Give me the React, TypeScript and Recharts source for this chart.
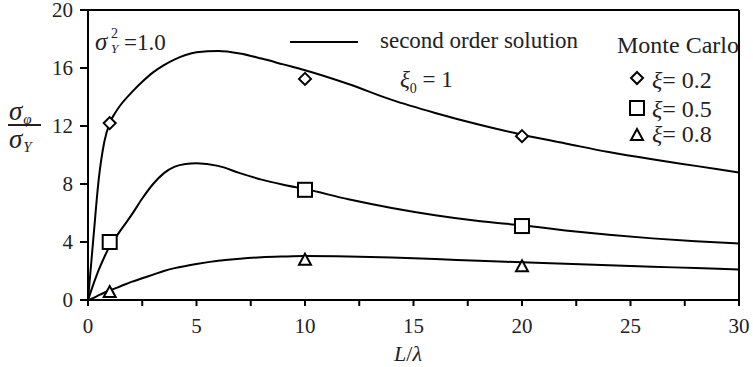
import React from 'react';
import { ComposedChart, Line, Scatter, XAxis, YAxis, ReferenceLine } from 'recharts';

// L/lambda sample points for the second order solution curves
const curveX = [0, 0.25, 0.5, 0.75, 1, 1.25, 1.5, 2, 2.5, 3, 3.5, 4, 4.5, 5, 6, 7, 8, 9, 10, 12, 14, 16, 18, 20, 22, 24, 26, 28, 30];
const curve02 = [0, 4.3, 8.4, 10.9, 12.2, 12.9, 13.45, 14.3, 15.05, 15.7, 16.2, 16.6, 16.9, 17.08, 17.17, 17.0, 16.65, 16.25, 15.85, 14.9, 13.8, 12.9, 12.1, 11.4, 10.8, 10.2, 9.7, 9.25, 8.8];
const curve05 = [0, 1.1, 2.1, 2.95, 3.7, 4.25, 4.8, 5.85, 7.0, 8.0, 8.75, 9.2, 9.38, 9.43, 9.25, 8.75, 8.3, 7.95, 7.65, 6.95, 6.35, 5.85, 5.45, 5.15, 4.8, 4.5, 4.25, 4.05, 3.9];
const curve08 = [0, 0.15, 0.33, 0.5, 0.65, 0.8, 0.95, 1.25, 1.5, 1.75, 2.0, 2.2, 2.35, 2.48, 2.7, 2.85, 2.95, 3.0, 3.03, 3.0, 2.93, 2.83, 2.7, 2.6, 2.5, 2.4, 2.3, 2.2, 2.1];

// Monte Carlo results
const mcX = [1, 10, 20];
const mc02 = [12.2, 15.25, 11.3];
const mc05 = [4.0, 7.6, 5.1];
const mc08 = [0.55, 2.78, 2.33];

const xTicks = [0, 2.5, 5, 7.5, 10, 12.5, 15, 17.5, 20, 22.5, 25, 27.5, 30];
const yTicks = [0, 4, 8, 12, 16, 20];

const serif = "'Liberation Serif', 'Times New Roman', serif";

const toPoints = (xs: number[], ys: number[]) => xs.map((x, i) => ({ x, y: ys[i] }));

const Diamond = ({ cx, cy }: any) => (
    <path d={`M${cx},${cy - 6}L${cx + 6},${cy}L${cx},${cy + 6}L${cx - 6},${cy}Z`} fill="#fff" stroke="#000" strokeWidth={2} />
);
const Square = ({ cx, cy }: any) => (
    <rect x={cx - 7} y={cy - 7} width={14} height={14} fill="#fff" stroke="#000" strokeWidth={2} />
);
const Triangle = ({ cx, cy }: any) => (
    <path d={`M${cx},${cy - 6}L${cx + 6},${cy + 5}L${cx - 6},${cy + 5}Z`} fill="#fff" stroke="#000" strokeWidth={2} />
);

const XTick = ({ x, y, payload }: any) => {
    if (payload.value % 5 !== 0) return <g />;
    return (
        <text x={x} y={y + 25} textAnchor="middle" style={{ fontFamily: serif }} fontSize={21} fill="#222">
            {payload.value}
        </text>
    );
};

const YTick = ({ x, y, payload }: any) => (
    <text x={x - 5} y={y + 7} textAnchor="end" style={{ fontFamily: serif }} fontSize={21} fill="#222">
        {payload.value}
    </text>
);

const abs = (left: number, top: number, fontSize = 23): React.CSSProperties => ({
    position: 'absolute',
    left,
    top,
    fontFamily: serif,
    fontSize,
    color: '#222',
    whiteSpace: 'nowrap',
    lineHeight: 1,
});

const symAt = (left: number, top: number, kind: string) => (
    <svg width={16} height={16} style={{ position: 'absolute', left, top }}>
        {kind === 'd' && <Diamond cx={8} cy={8} />}
        {kind === 's' && <Square cx={8} cy={8} />}
        {kind === 't' && <Triangle cx={8} cy={8} />}
    </svg>
);

const subStyle: React.CSSProperties = { fontSize: 15, position: 'relative', top: 4, marginLeft: 1 };

export default function App() {
    return (
        <div style={{ position: 'absolute', left: 0, top: 0, width: 753, height: 367, background: '#fff' }}>
            <ComposedChart width={753} height={367} margin={{ top: 10, right: 14, bottom: 27, left: 0 }}>
                <XAxis
                    type="number"
                    dataKey="x"
                    domain={[0, 30]}
                    ticks={xTicks}
                    tick={<XTick />}
                    tickSize={6}
                    tickLine={{ stroke: '#000', strokeWidth: 2 }}
                    axisLine={{ stroke: '#000', strokeWidth: 2 }}
                    height={40}
                    allowDataOverflow
                />
                <YAxis
                    type="number"
                    domain={[0, 20]}
                    ticks={yTicks}
                    tick={<YTick />}
                    tickSize={8}
                    tickLine={{ stroke: '#000', strokeWidth: 2 }}
                    axisLine={{ stroke: '#000', strokeWidth: 2 }}
                    width={88}
                    allowDataOverflow
                />
                <ReferenceLine y={20} stroke="#000" strokeWidth={2} />
                <ReferenceLine x={30} stroke="#000" strokeWidth={2} />
                <Line data={toPoints(curveX, curve02)} dataKey="y" type="monotone" stroke="#000" strokeWidth={2} dot={false} isAnimationActive={false} />
                <Line data={toPoints(curveX, curve05)} dataKey="y" type="monotone" stroke="#000" strokeWidth={2} dot={false} isAnimationActive={false} />
                <Line data={toPoints(curveX, curve08)} dataKey="y" type="monotone" stroke="#000" strokeWidth={2} dot={false} isAnimationActive={false} />
                <Scatter data={toPoints(mcX, mc02)} dataKey="y" shape={<Diamond />} isAnimationActive={false} />
                <Scatter data={toPoints(mcX, mc05)} dataKey="y" shape={<Square />} isAnimationActive={false} />
                <Scatter data={toPoints(mcX, mc08)} dataKey="y" shape={<Triangle />} isAnimationActive={false} />
            </ComposedChart>

            {/* sigma_Y^2 = 1.0 */}
            <div style={abs(95, 29, 25)}><i>σ</i></div>
            <div style={abs(111, 27, 14)}>2</div>
            <div style={abs(111, 42, 13)}><i>Y</i></div>
            <div style={abs(124, 31, 23)}>=1.0</div>

            {/* legend */}
            <div style={{ position: 'absolute', left: 290, top: 41, width: 68, height: 2, background: '#000' }} />
            <div style={abs(380, 29, 23)}>second order solution</div>
            <div style={abs(400, 68, 23)}>
                <i>ξ</i><sub style={{ fontSize: 14 }}>0</sub> = 1
            </div>
            <div style={abs(617, 33, 24)}>Monte Carlo</div>
            {symAt(629, 70, 'd')}
            <div style={abs(652, 68, 24)}><i>ξ</i>= 0.2</div>
            {symAt(629, 100, 's')}
            <div style={abs(652, 97, 24)}><i>ξ</i>= 0.5</div>
            {symAt(629, 127, 't')}
            <div style={abs(652, 122, 24)}><i>ξ</i>= 0.8</div>

            {/* y axis label: sigma_phi over sigma_Y */}
            <div style={{ ...abs(9, 99, 27), lineHeight: '24px' }}>
                <i>σ</i><span style={subStyle}><i>φ</i></span>
                <br />
                <i>σ</i><span style={subStyle}><i>Y</i></span>
            </div>
            <div style={{ position: 'absolute', left: 8, top: 124, width: 33, height: 1.5, background: '#222' }} />

            {/* x axis label */}
            <div style={abs(394, 343, 22)}>
                <i>L</i>/<i>λ</i>
            </div>
        </div>
    );
}
